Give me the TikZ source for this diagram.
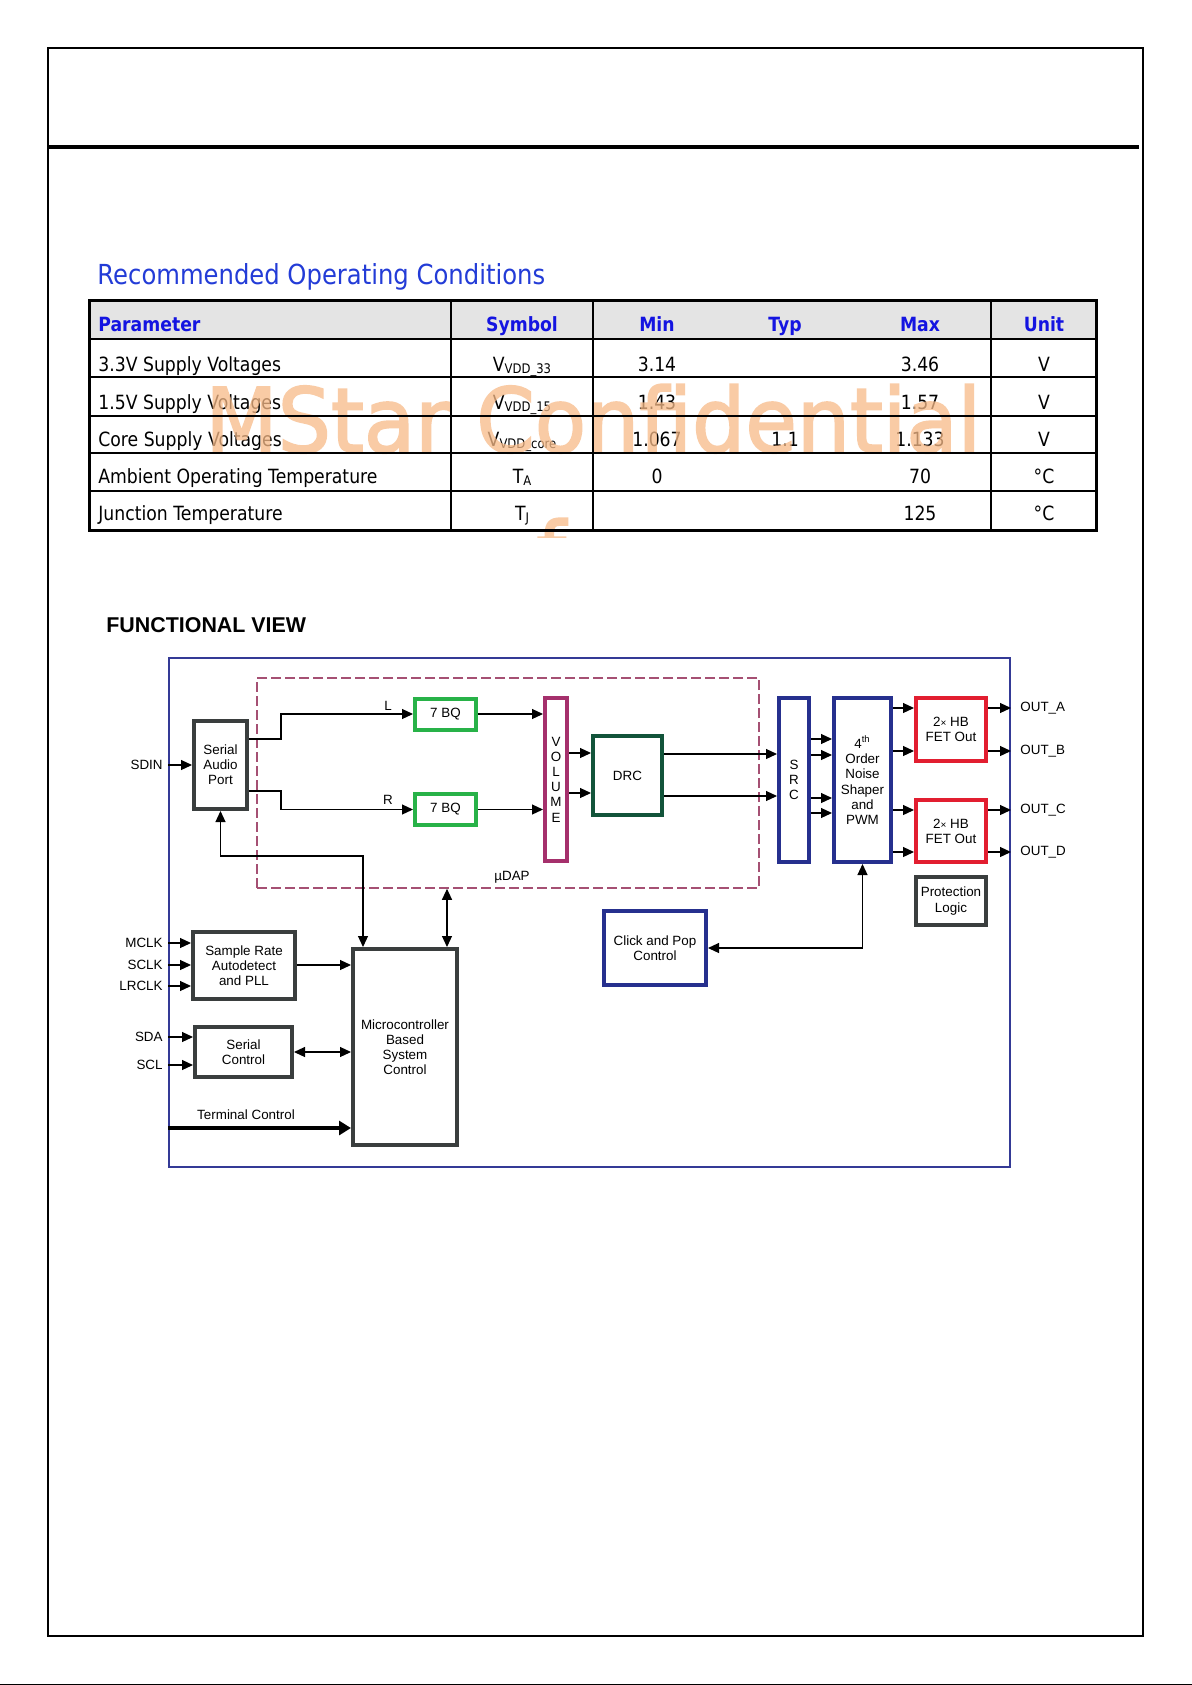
\documentclass[tikz,border=0pt]{standalone}
\usepackage{fontspec}
\setmainfont{Liberation Sans}
\newfontfamily\tah{DejaVu Sans}[FakeStretch=0.88]
\newfontfamily\wmf{DejaVu Sans}[FakeStretch=0.94,FakeBold=2]
\usetikzlibrary{arrows.meta}
\definecolor{dgrey}{RGB}{58,62,62}
\definecolor{bqgreen}{RGB}{40,178,72}
\definecolor{volmag}{RGB}{165,48,108}
\definecolor{drcgreen}{RGB}{18,84,58}
\definecolor{navy}{RGB}{38,48,142}
\definecolor{fetred}{RGB}{226,30,48}
\definecolor{outerblue}{RGB}{52,58,150}
\definecolor{dashmag}{RGB}{165,80,115}
\definecolor{hdrblue}{RGB}{20,20,225}
\definecolor{ttlblue}{RGB}{35,60,215}
\definecolor{hdrgrey}{RGB}{228,228,228}
\definecolor{wmc}{RGB}{247,186,136}
\newcommand\dfont{\fontsize{6.7}{7.6}\selectfont}
\newcommand\tbf{\tah\fontsize{9.8}{11}\selectfont}
\newcommand\sbs[1]{\raisebox{-1.4pt}{\fontsize{6.6}{7}\selectfont #1}}
\newcommand\tms{{\fontsize{5}{5}\selectfont ×}}
\begin{document}
\begin{tikzpicture}[x=0.5pt,y=-0.5pt,
  blk/.style={draw=dgrey, line width=2pt, inner sep=0pt, align=center, font=\dfont, fill=white},
  lbl/.style={inner sep=0pt, font=\dfont},
  arr/.style={line width=0.6pt, -{Triangle[length=5.5pt,width=5pt]}},
  arrb/.style={line width=0.6pt, {Triangle[length=5.5pt,width=5pt]}-{Triangle[length=5.5pt,width=5pt]}},
  cell/.style={inner sep=0pt, anchor=base, font=\tbf},
  lcell/.style={cell, anchor=base west},
  hcell/.style={cell, font=\tbf\bfseries, text=hdrblue},
  wmark/.style={inner sep=0pt, anchor=base west, font=\wmf\fontsize{44.6}{50}\selectfont, text=wmc}
]
\useasboundingbox (0,0) rectangle (1192,1685);
\fill[white] (0,0) rectangle (1192,1685);

% page frame
\draw[line width=0.6pt] (48,48) rectangle (1143,1636);
\draw[line width=1pt] (1143,48) -- (1143,1636) -- (48,1636);
\draw[line width=2pt] (47,147) -- (1139,147);
\draw[line width=0.8pt] (0,1684.5) -- (1192,1684.5);

% title
\node[anchor=base west, inner sep=0pt, font=\tah\fontsize{13.8}{16}\selectfont, text=ttlblue] (title) at (97,285) {Recommended Operating Conditions};

% table
\fill[hdrgrey] (89,301) rectangle (1096,339);
\node[hcell, anchor=base west] (hpar) at (98,331) {Parameter};
\node[hcell] (hsym) at (522,331) {Symbol};
\node[hcell] (hmin) at (657,331) {Min};
\node[hcell] (htyp) at (785,331) {Typ};
\node[hcell] (hmax) at (920,331) {Max};
\node[hcell] (hunit) at (1044,331) {Unit};

\node[lcell] (p1) at (98,371) {3.3V Supply Voltages};
\node[lcell] (p2) at (98,409) {1.5V Supply Voltages};
\node[lcell] (p3) at (98,446) {Core Supply Voltages};
\node[lcell] (p4) at (98,483) {Ambient Operating Temperature};
\node[lcell] (p5) at (98,520) {Junction Temperature};

\node[cell] (s1) at (522,371) {V\sbs{VDD\_33}};
\node[cell] (s2) at (522,409) {V\sbs{VDD\_15}};
\node[cell] (s3) at (522,446) {V\sbs{VDD\_core}};
\node[cell] (s4) at (522,483) {T\sbs{A}};
\node[cell] (s5) at (522,520) {T\sbs{J}};

\node[cell] (mn1) at (657,371) {3.14};
\node[cell] (mn2) at (657,409) {1.43};
\node[cell] (mn3) at (657,446) {1.067};
\node[cell] (mn4) at (657,483) {0};
\node[cell] (ty3) at (785,446) {1.1};
\node[cell] (mx1) at (920,371) {3.46};
\node[cell] (mx2) at (920,409) {1.57};
\node[cell] (mx3) at (920,446) {1.133};
\node[cell] (mx4) at (920,483) {70};
\node[cell] (mx5) at (920,520) {125};
\node[cell] (u1) at (1044,371) {V};
\node[cell] (u2) at (1044,409) {V};
\node[cell] (u3) at (1044,446) {V};
\node[cell] (u4) at (1044,483) {°C};
\node[cell] (u5) at (1044,520) {°C};

% watermark
\begin{scope}[transparency group, opacity=0.75]
\node[wmark] (wm) at (205,452) {MStar Confidential};
\begin{scope}
\clip (525,505) rectangle (585,537);
\node[wmark] (wm2) at (536,586) {f};
\end{scope}
\end{scope}

% table lines
\draw[line width=1.2pt] (89,339) -- (1096,339);
\foreach \yy in {377,416,453,491} \draw[line width=1pt] (89,\yy) -- (1096,\yy);
\foreach \xx in {451,593,991} \draw[line width=1pt] (\xx,300) -- (\xx,530);
\draw[line width=1.5pt] (89,300) rectangle (1096,530);

% functional view
\node[anchor=base west, inner sep=0pt, font=\bfseries\fontsize{10.7}{12}\selectfont] (fv) at (106,632) {FUNCTIONAL VIEW};

\node[draw=outerblue, line width=1pt, minimum width=420.5pt, minimum height=254.5pt, inner sep=0pt] (outer) at (589.5,912.5) {};
\node[draw=dashmag, line width=0.8pt, dash pattern=on 5pt off 2pt, minimum width=251pt, minimum height=105pt, inner sep=0pt] (udap) at (508,783) {};

\node[blk, minimum width=26.5pt, minimum height=44pt] (sap) at (220.5,765) {Serial\\Audio\\Port};
\node[blk, draw=bqgreen, minimum width=30.5pt, minimum height=15.5pt] (bqL) at (445.5,714) {7 BQ};
\node[blk, draw=bqgreen, minimum width=30.5pt, minimum height=15.5pt] (bqR) at (445.5,809.5) {7 BQ};
\node[blk, draw=volmag, minimum width=11pt, minimum height=81.5pt] (vol) at (556,779.5) {V\\O\\L\\U\\M\\E};
\node[blk, draw=drcgreen, minimum width=34.5pt, minimum height=39.5pt] (drc) at (627.5,775.5) {DRC};
\node[blk, draw=navy, minimum width=15pt, minimum height=82pt] (src) at (794,780) {S\\R\\C};
\node[blk, draw=navy, minimum width=28.5pt, minimum height=82pt] (nsh) at (862.5,780) {4\textsuperscript{th}\\Order\\Noise\\Shaper\\and\\PWM};
\node[blk, draw=fetred, minimum width=35pt, minimum height=31.5pt] (fetA) at (951,729.5) {2\tms{} HB\\FET Out};
\node[blk, draw=fetred, minimum width=35pt, minimum height=31pt] (fetB) at (951,831) {2\tms{} HB\\FET Out};
\node[blk, minimum width=35pt, minimum height=24pt] (prot) at (951,901) {Protection\\Logic};
\node[blk, draw=navy, minimum width=51pt, minimum height=37pt] (cpop) at (655,948) {Click and Pop\\Control};
\node[blk, minimum width=51pt, minimum height=33.5pt] (srate) at (244,965.5) {Sample Rate\\Autodetect\\and PLL};
\node[blk, minimum width=48.5pt, minimum height=25pt] (sctl) at (243.5,1052) {Serial\\Control};
\node[blk, minimum width=52pt, minimum height=98pt] (mcu) at (405,1047) {Microcontroller\\Based\\System\\Control};

% input labels
\node[lbl, anchor=east] (sdin) at (163,765) {SDIN};
\node[lbl, anchor=east] (mclk) at (163,943) {MCLK};
\node[lbl, anchor=east] (sclk) at (163,965) {SCLK};
\node[lbl, anchor=east] (lrclk) at (163,986) {LRCLK};
\node[lbl, anchor=east] (sda) at (163,1037) {SDA};
\node[lbl, anchor=east] (scl) at (163,1065) {SCL};
\node[lbl] (tcl) at (246,1115) {Terminal Control};
\node[lbl] (lL) at (388,706) {L};
\node[lbl] (lR) at (388,800) {R};
\node[lbl] (udapl) at (512,877) {µDAP};
\node[lbl, anchor=west] (oa) at (1020,708) {OUT\_A};
\node[lbl, anchor=west] (ob) at (1020,751) {OUT\_B};
\node[lbl, anchor=west] (oc) at (1020,810) {OUT\_C};
\node[lbl, anchor=west] (od) at (1020,852) {OUT\_D};

% connectors
\draw[arr] (outer.west |- sap.west) -- (sap.west);
\draw[arr] (sap.east |- 0,739) -| (281,0 |- bqL.west) -- (bqL.west);
\draw[arr] (sap.east |- 0,791) -| (281,0 |- bqR.west) -- (bqR.west);
\draw[arr] (bqL.east) -- (vol.west |- bqL.east);
\draw[arr] (bqR.east) -- (vol.west |- bqR.east);
\draw[arr] (vol.east |- 0,753) -- (drc.west |- 0,753);
\draw[arr] (vol.east |- 0,793) -- (drc.west |- 0,793);
\draw[arr] (drc.east |- 0,754) -- (src.west |- 0,754);
\draw[arr] (drc.east |- 0,796) -- (src.west |- 0,796);
\foreach \yy in {739,755,798,813} \draw[arr] (src.east |- 0,\yy) -- (nsh.west |- 0,\yy);
\foreach \yy in {708,751} \draw[arr] (nsh.east |- 0,\yy) -- (fetA.west |- 0,\yy);
\foreach \yy in {810,852} \draw[arr] (nsh.east |- 0,\yy) -- (fetB.west |- 0,\yy);
\foreach \yy in {708,751} \draw[arr] (fetA.east |- 0,\yy) -- (outer.east |- 0,\yy);
\foreach \yy in {810,852} \draw[arr] (fetB.east |- 0,\yy) -- (outer.east |- 0,\yy);
\draw[arrb] (cpop.east) -| (nsh.south);
\draw[arrb] (363,0 |- mcu.north) -- (363,856) -| (sap.south);
\draw[arrb] (447,0 |- mcu.north) -- (447,0 |- udap.south);
\foreach \yy in {943,965,986} \draw[arr] (outer.west |- 0,\yy) -- (srate.west |- 0,\yy);
\foreach \yy in {1037,1065} \draw[arr] (outer.west |- 0,\yy) -- (sctl.west |- 0,\yy);
\draw[arr] (srate.east |- 0,965) -- (mcu.west |- 0,965);
\draw[arrb] (sctl.east) -- (mcu.west |- sctl.east);
\draw[line width=2pt, -{Triangle[length=6pt,width=7pt]}] (outer.west |- 0,1128) -- (mcu.west |- 0,1128);
\end{tikzpicture}
\end{document}
